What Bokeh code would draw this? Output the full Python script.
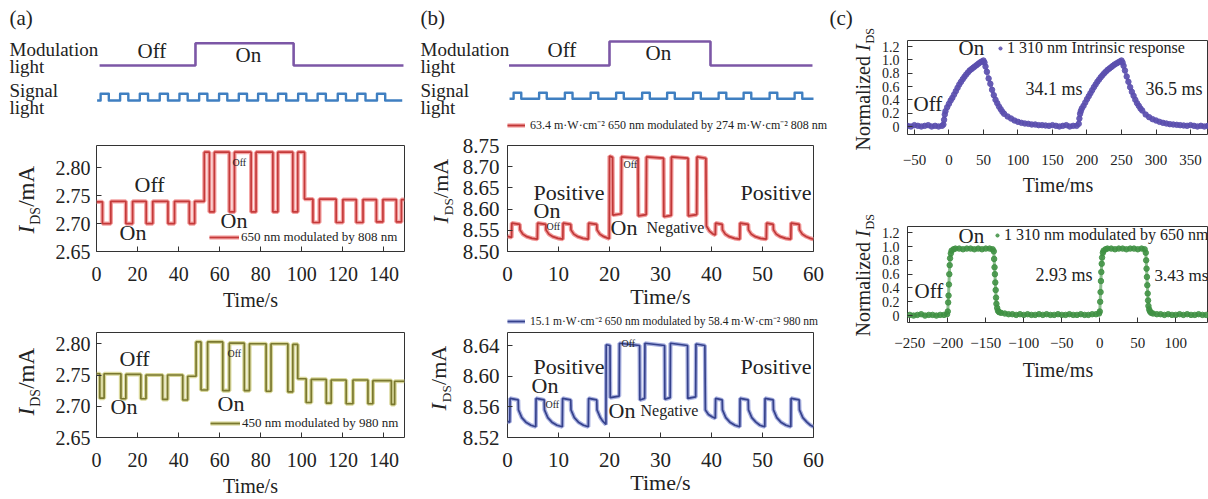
import math
from bokeh.plotting import figure
from bokeh.layouts import row, column
from bokeh.models import (Range1d, Label, Legend, LegendItem, FixedTicker,
                          NumeralTickFormatter, PrintfTickFormatter)
from bokeh.embed import file_html
from bokeh.resources import INLINE

# ---------------- data ----------------
# (a) schematic: modulation light (0 off / 1 on) and signal light pulses (time in s)
mod_a_edges = [1.5, 48.2, 96.0, 149.5]
mod_a_state = [0, 1, 0, 0]
sig_a_span = [0.3, 148.9]
sig_a_starts = [2.0, 11.5, 21.1, 30.8, 40.4, 50.0, 59.7, 69.3, 78.7, 88.4, 98.2, 107.7, 117.5, 127.0, 136.6]
sig_a_width = 4.0

# (b) schematic
mod_b_edges = [0.3, 20.0, 39.8, 59.8]
mod_b_state = [0, 1, 0, 0]
sig_b_span = [0.4, 60.0]
sig_b_starts = [1.2, 6.2, 11.25, 16.3, 21.3, 26.4, 31.3, 36.4, 41.4, 46.3, 51.4, 56.3]
sig_b_width = 1.5

# (a) 650 nm modulated by 808 nm  (step edges in s, current in mA)
a1_t = [0, 2.9, 7.0, 14.3, 17.6, 24.2, 27.4, 34.8, 38.0, 45.2, 47.8, 52.5, 55.0, 57.4, 64.7, 67.2, 75.3,
        77.7, 85.9, 88.3, 95.6, 98.0, 101.3, 105.4, 108.6, 116.7, 120.0, 126.5, 129.8, 136.3, 139.5, 146.0, 148.5, 150]
a1_i = [2.739, 2.700, 2.740, 2.700, 2.740, 2.700, 2.740, 2.700, 2.740, 2.700, 2.740, 2.828, 2.721, 2.828, 2.721,
        2.828, 2.721, 2.828, 2.721, 2.828, 2.721, 2.828, 2.744, 2.702, 2.744, 2.702, 2.743, 2.702, 2.743, 2.703,
        2.743, 2.703, 2.743, 2.743]

# (a) 450 nm modulated by 980 nm
a2_t = [0, 1.6, 3.7, 11.9, 14.3, 21.6, 24.1, 32.2, 34.6, 42.0, 44.4, 48.5, 50.9, 54.1, 61.5, 64.7, 72.0,
        74.5, 82.6, 85.0, 93.2, 95.6, 98.0, 102.1, 104.6, 111.9, 114.3, 121.6, 124.9, 132.2, 134.6, 143.6, 145.2, 150]
a2_i = [2.752, 2.713, 2.752, 2.712, 2.751, 2.712, 2.750, 2.711, 2.750, 2.710, 2.748, 2.803, 2.726, 2.803, 2.725,
        2.801, 2.725, 2.800, 2.724, 2.800, 2.723, 2.799, 2.744, 2.706, 2.743, 2.705, 2.742, 2.704, 2.742, 2.704,
        2.741, 2.703, 2.740, 2.740]

# (b) 63.4 mW/cm2 650 nm modulated by 274 mW/cm2 808 nm
b1_t = [0.0, 0.8, 0.85, 2.4, 2.45, 3.0, 3.8, 4.8, 5.85,
        5.9, 7.5, 7.55, 8.1, 8.9, 9.9, 10.85,
        10.9, 12.4, 12.45, 13.0, 13.8, 14.8, 15.85,
        15.9, 17.5, 17.55, 18.1, 18.9, 19.95,
        20.0, 20.6, 20.65, 22.3, 22.35, 25.6, 25.65, 27.2, 27.25, 30.6, 30.65, 32.1, 32.15, 35.4, 35.45, 37.1, 37.15, 38.9,
        39.0, 39.6, 40.2, 40.75,
        40.8, 42.1, 42.15, 42.7, 43.5, 44.5, 45.55,
        45.6, 47.2, 47.25, 47.8, 48.6, 49.6, 50.75,
        50.8, 52.1, 52.15, 52.7, 53.5, 54.5, 55.55,
        55.6, 57.2, 57.25, 57.8, 58.6, 59.4, 60.0]
b1_i = [8.536, 8.533, 8.567, 8.564, 8.551, 8.541, 8.535, 8.531, 8.529,
        8.567, 8.564, 8.551, 8.541, 8.535, 8.531, 8.529,
        8.567, 8.564, 8.551, 8.541, 8.535, 8.531, 8.529,
        8.567, 8.564, 8.551, 8.541, 8.535, 8.530,
        8.725, 8.722, 8.586, 8.589, 8.723, 8.720, 8.584, 8.587, 8.723, 8.720, 8.582, 8.585, 8.723, 8.720, 8.584, 8.587, 8.723, 8.720,
        8.560, 8.548, 8.542, 8.539,
        8.567, 8.564, 8.551, 8.541, 8.535, 8.531, 8.529,
        8.567, 8.564, 8.551, 8.541, 8.535, 8.531, 8.529,
        8.567, 8.564, 8.551, 8.541, 8.535, 8.531, 8.529,
        8.567, 8.564, 8.551, 8.541, 8.535, 8.531, 8.529]

# (b) 15.1 mW/cm2 650 nm modulated by 58.4 mW/cm2 980 nm
b2_t = [0.0, 0.45, 0.5, 2.1, 2.15, 2.8, 3.6, 4.6, 5.55,
        5.6, 7.2, 7.25, 7.9, 8.7, 9.7, 10.75,
        10.8, 12.4, 12.45, 13.1, 13.9, 14.9, 15.85,
        15.9, 17.5, 17.55, 18.2, 18.6, 19.3,
        19.35, 20.1, 20.15, 21.9, 21.95, 25.9, 25.95, 26.9, 26.95, 30.8, 30.85, 31.9, 31.95, 35.3, 35.35, 36.9, 36.95, 38.7,
        38.8, 39.4, 40.1, 40.75,
        40.8, 42.1, 42.15, 42.8, 43.6, 44.6, 45.55,
        45.6, 47.2, 47.25, 47.9, 48.7, 49.5, 50.45,
        50.5, 52.1, 52.15, 52.8, 53.6, 54.6, 55.55,
        55.6, 57.2, 57.25, 57.9, 58.7, 59.4, 60.0]
b2_i = [8.541, 8.540, 8.571, 8.569, 8.556, 8.546, 8.540, 8.536, 8.534,
        8.571, 8.569, 8.556, 8.546, 8.540, 8.536, 8.534,
        8.571, 8.569, 8.556, 8.546, 8.540, 8.536, 8.534,
        8.571, 8.569, 8.556, 8.546, 8.542, 8.537,
        8.641, 8.640, 8.572, 8.574, 8.643, 8.640, 8.569, 8.571, 8.643, 8.640, 8.570, 8.572, 8.643, 8.640, 8.571, 8.573, 8.642, 8.640,
        8.556, 8.550, 8.547, 8.545,
        8.571, 8.569, 8.556, 8.546, 8.540, 8.536, 8.534,
        8.571, 8.569, 8.556, 8.546, 8.540, 8.536, 8.534,
        8.571, 8.569, 8.556, 8.546, 8.540, 8.536, 8.534,
        8.571, 8.569, 8.556, 8.546, 8.540, 8.536, 8.534]

# (c) 1310 nm intrinsic response (time in ms, normalized I_DS)
c1_t = [-60, -55, -50, -45, -40, -35, -30, -25, -20, -15,
        -10, -8, -7, -6, -5, -2.5, 0, 2.5, 5, 7.5,
        10, 12.5, 15, 17.5, 20, 22.5, 25, 27.5, 30, 32.5,
        35, 37.5, 40, 42.5, 45, 47.5, 50, 51.5, 53, 55,
        57.5, 60, 62.5, 65, 67.5, 70, 72.5, 75, 77.5, 80,
        85, 90, 95, 100, 105, 110, 115, 120, 125, 130,
        135, 140, 145, 150, 155, 160, 165, 170, 175, 180,
        185, 188, 189, 190, 191, 192.5, 195, 197.5, 200, 202.5,
        205, 207.5, 210, 212.5, 215, 217.5, 220, 222.5, 225, 227.5,
        230, 232.5, 235, 237.5, 240, 242.5, 245, 247.5, 250, 251.5,
        253, 255, 257.5, 260, 262.5, 265, 267.5, 270, 272.5, 275,
        277.5, 280, 285, 290, 295, 300, 305, 310, 315, 320,
        325, 330, 335, 340, 345, 350, 355, 360, 365, 370,
        375]
c1_v = [0.01, 0.00, 0.02, 0.01, 0.00, 0.01, 0.02, 0.00, 0.01, 0.00,
        0.01, 0.03, 0.10, 0.18, 0.23, 0.29, 0.34, 0.39, 0.43, 0.48,
        0.53, 0.58, 0.63, 0.67, 0.71, 0.745, 0.78, 0.81, 0.84, 0.86,
        0.88, 0.90, 0.92, 0.94, 0.96, 0.975, 0.99, 0.96, 0.90, 0.82,
        0.72, 0.64, 0.55, 0.47, 0.40, 0.35, 0.30, 0.26, 0.22, 0.19,
        0.15, 0.12, 0.09, 0.07, 0.055, 0.045, 0.04, 0.03, 0.03, 0.02,
        0.02, 0.015, 0.01, 0.02, 0.01, 0.00, 0.01, 0.02, 0.00, 0.01,
        0.01, 0.04, 0.12, 0.19, 0.23, 0.27, 0.31, 0.36, 0.41, 0.455,
        0.50, 0.545, 0.59, 0.63, 0.67, 0.705, 0.74, 0.77, 0.80, 0.825,
        0.85, 0.87, 0.89, 0.91, 0.93, 0.945, 0.96, 0.975, 0.99, 0.96,
        0.91, 0.84, 0.75, 0.67, 0.59, 0.52, 0.46, 0.40, 0.35, 0.31,
        0.27, 0.24, 0.18, 0.14, 0.11, 0.09, 0.07, 0.055, 0.045, 0.035,
        0.03, 0.025, 0.02, 0.015, 0.01, 0.02, 0.01, 0.00, 0.01, 0.00,
        0.01]

# (c) 1310 nm modulated by 650 nm
c2_t = [-250, -245, -240, -235, -230, -225, -220, -215, -210, -205,
        -201, -200, -199.5, -199, -198.5, -198, -197.5, -197, -196, -195,
        -192.5, -190, -185, -180, -175, -170, -165, -160, -155, -150,
        -145, -141, -139.5, -139, -138.5, -138, -137.5, -137, -136.5, -136,
        -135, -134, -132.5, -130, -125, -120, -115, -110, -105, -100,
        -95, -90, -85, -80, -75, -70, -65, -60, -55, -50,
        -45, -40, -35, -30, -25, -20, -15, -10, -5, -1,
        0, 0.5, 1, 1.5, 2, 2.5, 3, 4, 5, 7.5,
        10, 15, 20, 25, 30, 35, 40, 45, 50, 55,
        59, 60.5, 61, 61.5, 62, 62.5, 63, 63.5, 64, 65,
        66, 67.5, 70, 75, 80, 85, 90, 95, 100, 105,
        110, 115, 120, 125, 130, 135, 140]
c2_v = [0.01, 0.00, 0.01, 0.02, 0.00, 0.01, 0.01, 0.00, 0.01, 0.01,
        0.02, 0.06, 0.19, 0.29, 0.45, 0.60, 0.73, 0.83, 0.90, 0.94,
        0.96, 0.97, 0.97, 0.96, 0.97, 0.97, 0.96, 0.97, 0.96, 0.97,
        0.97, 0.96, 0.93, 0.82, 0.70, 0.60, 0.48, 0.37, 0.26, 0.17,
        0.11, 0.07, 0.05, 0.04, 0.03, 0.02, 0.02, 0.01, 0.02, 0.01,
        0.02, 0.01, 0.01, 0.02, 0.01, 0.02, 0.01, 0.01, 0.02, 0.01,
        0.01, 0.02, 0.01, 0.01, 0.02, 0.01, 0.01, 0.02, 0.02, 0.03,
        0.06, 0.20, 0.34, 0.50, 0.63, 0.75, 0.84, 0.91, 0.94, 0.96,
        0.97, 0.97, 0.96, 0.97, 0.97, 0.96, 0.97, 0.97, 0.96, 0.97,
        0.96, 0.91, 0.80, 0.68, 0.56, 0.44, 0.32, 0.22, 0.14, 0.09,
        0.06, 0.04, 0.03, 0.02, 0.02, 0.01, 0.02, 0.01, 0.01, 0.02,
        0.01, 0.02, 0.01, 0.01, 0.02, 0.01, 0.01]

ticks_a_x = [0, 20, 40, 60, 80, 100, 120, 140]
ticks_a_y = [2.65, 2.70, 2.75, 2.80]
ticks_b_x = [0, 10, 20, 30, 40, 50, 60]
ticks_b1_y = [8.50, 8.55, 8.60, 8.65, 8.70, 8.75]
ticks_b2_y = [8.52, 8.56, 8.60, 8.64]
ticks_c1_x = [-50, 0, 50, 100, 150, 200, 250, 300, 350]
ticks_c2_x = [-250, -200, -150, -100, -50, 0, 50, 100]
ticks_c_y = [0, 0.2, 0.4, 0.6, 0.8, 1.0, 1.2]

legend_a1 = "650 nm modulated by 808 nm"
legend_a2 = "450 nm modulated by 980 nm"
legend_b1 = "63.4 m\u00b7W\u00b7cm\u207b\u00b2 650 nm modulated by 274 m\u00b7W\u00b7cm\u207b\u00b2 808 nm"
legend_b2 = "15.1 m\u00b7W\u00b7cm\u207b\u00b2 650 nm modulated by 58.4 m\u00b7W\u00b7cm\u207b\u00b2 980 nm"
legend_c1 = "1 310 nm Intrinsic response"
legend_c2 = "1 310 nm modulated by 650 nm"

# ---------------- style ----------------
SERIF = "Liberation Serif"
INK = "#222222"
AX = "#333333"
PURPLE = "#7c57a6"
BLUE = "#3f7fc1"
RED_GLOW, RED_CORE = "#f29a9a", "#c03838"
BLU_GLOW, BLU_CORE = "#a9b1e0", "#36428c"
SHIFT = 0.38   # baseline correction for Label text


def base_fig(w, h, xr, yr, ml, mr, mt, mb, axes=True):
    kw = {}
    if not axes:
        kw = dict(x_axis_type=None, y_axis_type=None)
    p = figure(width=w, height=h, x_range=Range1d(*xr), y_range=Range1d(*yr),
               output_backend="svg", toolbar_location=None,
               min_border_left=ml, min_border_right=mr, min_border_top=mt, min_border_bottom=mb, **kw)
    p.xgrid.visible = False
    p.ygrid.visible = False
    if not axes:
        p.outline_line_color = None
        return p
    p.outline_line_color = AX
    p.outline_line_width = 1
    for ax in (p.xaxis[0], p.yaxis[0]):
        ax.axis_line_color = None
        ax.major_tick_in = 5
        ax.major_tick_out = 0
        ax.minor_tick_line_color = None
        ax.major_tick_line_color = AX
        ax.major_label_text_font = SERIF
        ax.major_label_text_color = INK
    return p


def text_fig(w, h):
    return base_fig(w, h, (0, w), (0, h), 0, 0, 0, 0, axes=False)


def set_axes(p, xt, yt, xfs, yfs, xs, ys, xlabel, lfs, lstand, yfmt=None, xo=None, yo=None):
    xa, ya = p.xaxis[0], p.yaxis[0]
    xa.ticker = FixedTicker(ticks=xt)
    ya.ticker = FixedTicker(ticks=yt)
    xa.major_label_text_font_size = f"{xfs}px"
    ya.major_label_text_font_size = f"{yfs}px"
    xa.major_label_standoff = xs
    ya.major_label_standoff = ys
    if yfmt is not None:
        ya.formatter = yfmt
    if xo:
        xa.major_label_overrides = xo
    if yo:
        ya.major_label_overrides = yo
    xa.axis_label = xlabel
    xa.axis_label_text_font = SERIF
    xa.axis_label_text_font_size = f"{lfs}px"
    xa.axis_label_text_font_style = "normal"
    xa.axis_label_text_color = INK
    xa.axis_label_standoff = lstand


def put(p, geo, text, px, py, size, align="left", style="normal", rot=False, color=INK):
    if rot:
        px = px - SHIFT * size
    else:
        py = py - SHIFT * size
    p.add_layout(Label(x=px - geo[0], y=geo[1] - py, x_units="screen", y_units="screen",
                       text=text, text_font=SERIF, text_font_size=f"{size}px",
                       text_font_style=style, text_align=align, text_baseline="alphabetic",
                       text_color=color, angle=(math.pi / 2 if rot else 0.0)))


def ylabel_ids(p, geo, bx, by, fs):
    put(p, geo, "I", bx, by, fs, style="italic", rot=True)
    sub = 0.6 * fs
    y2 = by - 0.38 * fs
    put(p, geo, "DS", bx + 0.22 * fs, y2, sub, rot=True)
    y3 = y2 - 1.30 * sub
    put(p, geo, "/mA", bx, y3, fs, rot=True)


def ylabel_norm(p, geo, bx, by, fs):
    put(p, geo, "Normalized", bx, by, fs, rot=True)
    y2 = by - 4.97 * fs
    put(p, geo, "I", bx, y2, fs, style="italic", rot=True)
    sub = 0.6 * fs
    y3 = y2 - 0.38 * fs
    put(p, geo, "DS", bx + 0.22 * fs, y3, sub, rot=True)


def make_legend(label, renderers, loc, gw, gh, fs, standoff):
    return Legend(items=[LegendItem(label=label, renderers=renderers)], location=loc,
                  glyph_width=gw, glyph_height=gh, label_height=gh, label_width=10,
                  label_text_font=SERIF, label_text_font_size=f"{fs}px", label_text_color=INK,
                  label_standoff=standoff, padding=0, margin=0, spacing=0,
                  border_line_color=None, background_fill_alpha=0)


def pulse_train(span, starts, width):
    xs, ys = [span[0]], [0]
    for s in starts:
        xs += [s, s + width]
        ys += [1, 0]
    xs.append(span[1])
    ys.append(0)
    return xs, ys


def schematic(p, mod_edges, mod_state, mod_base, mod_amp, sig, sig_base, sig_amp):
    p.step(mod_edges, [mod_base + mod_amp * s for s in mod_state], mode="after",
           line_color=PURPLE, line_width=2.6)
    sx, sy = sig
    p.step(sx, [sig_base + sig_amp * s for s in sy], mode="after", line_color=BLUE, line_width=2.4,
           line_join="round")


def trace(p, xs, ys, glow, core, step=False):
    f = p.step if step else p.line
    kw = dict(mode="after") if step else {}
    g = f(xs, ys, line_color=glow, line_width=4.2, **kw)
    c = f(xs, ys, line_color=core, line_width=1.7, **kw)
    return [g, c]


def legend_key(p, xs, ys, glow, core):
    # legend key for a trace drawn in the panel below: one-point lines (nothing visible is drawn)
    return [p.line(xs[:1], ys[:1], line_color=glow, line_width=4.2),
            p.line(xs[:1], ys[:1], line_color=core, line_width=1.7)]


# ---------------- column (a) ----------------
A_PX = 308 / 150.0
sa = base_fig(410, 125, (-96 / A_PX, 314 / A_PX), (0, 125), 0, 0, 0, 0, axes=False)
geo_sa = (0, 125)
schematic(sa, mod_a_edges, mod_a_state, 60, 22.3, pulse_train(sig_a_span, sig_a_starts, sig_a_width), 25, 6.7)
put(sa, geo_sa, "(a)", 9, 25, 21)
put(sa, geo_sa, "Modulation", 9, 56, 19)
put(sa, geo_sa, "light", 9, 73, 19)
put(sa, geo_sa, "Signal", 9, 97, 19)
put(sa, geo_sa, "light", 9, 114, 19)
put(sa, geo_sa, "Off", 137, 58, 21)
put(sa, geo_sa, "On", 235, 62, 21)

lab_a = text_fig(44, 374)
geo_la = (0, 499)
ylabel_ids(lab_a, geo_la, 35, 233, 23)
ylabel_ids(lab_a, geo_la, 35, 415, 23)

a1 = base_fig(366, 190, (0, 150), (2.65, 2.84), 52, 6, 20, 64)
geo_a1 = (96, 251)
set_axes(a1, ticks_a_x, ticks_a_y, 20, 20, 15, 6, "Time/s", 20, 5, yfmt=NumeralTickFormatter(format="0.00"))
r = trace(a1, a1_t, a1_i, "#f4a3a3", "#c43a3a", step=True)
a1.add_layout(make_legend(legend_a1, r, (113, 6), 30, 12, 13, 2))
put(a1, geo_a1, "Off", 134, 192, 22)
put(a1, geo_a1, "On", 119, 240, 22)
put(a1, geo_a1, "On", 220, 228.7, 22)
put(a1, geo_a1, "Off", 232, 165.5, 10)

a2 = base_fig(366, 184, (0, 150), (2.65, 2.818), 52, 6, 17, 62)
geo_a2 = (96, 437)
set_axes(a2, ticks_a_x, ticks_a_y, 20, 20, 15, 6, "Time/s", 20, 5, yfmt=NumeralTickFormatter(format="0.00"))
r = trace(a2, a2_t, a2_i, "#d9d89c", "#7a782f", step=True)
a2.add_layout(make_legend(legend_a2, r, (114, 6), 30, 12, 13, 2))
put(a2, geo_a2, "Off", 119, 366, 22)
put(a2, geo_a2, "On", 110, 414.5, 22)
put(a2, geo_a2, "On", 217, 411, 22)
put(a2, geo_a2, "Off", 227, 356.5, 10)

# ---------------- column (b) ----------------
B_PX = 306 / 60.0
sb = base_fig(418, 133, (-97 / B_PX, 321 / B_PX), (0, 133), 0, 0, 0, 0, axes=False)
geo_sb = (410, 133)
schematic(sb, mod_b_edges, mod_b_state, 68, 24, pulse_train(sig_b_span, sig_b_starts, sig_b_width), 34.7, 6)
put(sb, geo_sb, "(b)", 420, 25, 21)
put(sb, geo_sb, "Modulation", 420, 56, 19)
put(sb, geo_sb, "light", 420, 73, 19)
put(sb, geo_sb, "Signal", 420, 97, 19)
put(sb, geo_sb, "light", 420, 114, 19)
put(sb, geo_sb, "Off", 547, 57, 21)
put(sb, geo_sb, "On", 645, 60, 21)
sb.add_layout(make_legend(legend_b1, legend_key(sb, b1_t, b1_i, RED_GLOW, RED_CORE), (97, 0), 18, 10, 12, 5))

lab_b1 = text_fig(46, 179)
ylabel_ids(lab_b1, (410, 312), 448, 223, 22)

b1 = base_fig(372, 179, (0, 60), (8.50, 8.75), 51, 15, 12, 61)
geo_b1 = (507, 251)
set_axes(b1, ticks_b_x, ticks_b1_y, 21, 21, 15, 8, "Time/s", 22, 0, yfmt=NumeralTickFormatter(format="0.00"))
trace(b1, b1_t, b1_i, RED_GLOW, RED_CORE)
put(b1, geo_b1, "Positive", 533, 200, 22)
put(b1, geo_b1, "On", 533, 218, 22)
put(b1, geo_b1, "Off", 546, 230, 10)
put(b1, geo_b1, "On", 610, 235, 22)
put(b1, geo_b1, "Negative", 646, 233, 16)
put(b1, geo_b1, "Off", 623, 168, 10)
put(b1, geo_b1, "Positive", 740, 200, 22)

strip_b = text_fig(418, 20)
strip_b.add_layout(make_legend(legend_b2, legend_key(strip_b, b2_t, b2_i, BLU_GLOW, BLU_CORE), (97, 4), 18, 12, 11.5, 5))

lab_b2 = text_fig(46, 167)
ylabel_ids(lab_b2, (410, 499), 446, 410, 22)

b2 = base_fig(372, 167, (0, 60), (8.52, 8.657), 51, 15, 0, 62)
geo_b2 = (507, 437)
set_axes(b2, ticks_b_x, ticks_b2_y, 21, 21, 15, 8, "Time/s", 22, 0, yfmt=NumeralTickFormatter(format="0.00"))
trace(b2, b2_t, b2_i, BLU_GLOW, BLU_CORE)
put(b2, geo_b2, "Positive", 533, 374.5, 22)
put(b2, geo_b2, "On", 531, 393, 22)
put(b2, geo_b2, "Off", 545, 408, 10)
put(b2, geo_b2, "On", 608, 418, 22)
put(b2, geo_b2, "Negative", 640, 416, 16)
put(b2, geo_b2, "Off", 621, 347, 10)
put(b2, geo_b2, "Positive", 740, 374.5, 22)

# ---------------- column (c) ----------------
def minus(ticks):
    return {t: ("\u2212" + str(abs(t)) if t < 0 else str(t)) for t in ticks}


lab_c = text_fig(50, 499)
geo_lc = (828, 499)
put(lab_c, geo_lc, "(c)", 829, 25, 21)
ylabel_norm(lab_c, geo_lc, 870, 150, 20)
ylabel_norm(lab_c, geo_lc, 870, 336, 20)

c1 = base_fig(330, 200, (-60, 376), (-0.12, 1.29), 26, 0, 40, 66)
geo_c1 = (904, 134)
set_axes(c1, ticks_c1_x, ticks_c_y, 15, 14, 20, 8, "Time/ms", 20, 6,
         yfmt=PrintfTickFormatter(format="%.1f"), xo=minus(ticks_c1_x), yo={0: "0"})
c1.line(c1_t, c1_v, line_color="#5a4fae", line_width=3.5, line_alpha=0.6)
s1 = c1.scatter(c1_t, c1_v, size=5.5, color="#5a4fae", alpha=0.85)
c1.add_layout(make_legend(legend_c1, [s1], (89, 77), 8, 16, 16, 3))
put(c1, geo_c1, "On", 955, 55, 21)
put(c1, geo_c1, "Off", 910, 111.7, 21)
put(c1, geo_c1, "34.1 ms", 1022, 95, 18)
put(c1, geo_c1, "36.5 ms", 1142, 95, 18)

c2 = base_fig(330, 299, (-253, 143), (-0.1, 1.29), 26, 0, 26, 177)
geo_c2 = (904, 322)
set_axes(c2, ticks_c2_x, ticks_c_y, 15, 14, 15, 8, "Time/ms", 20, 8,
         yfmt=PrintfTickFormatter(format="%.1f"), xo=minus(ticks_c2_x), yo={0: "0"})
c2.line(c2_t, c2_v, line_color="#3f9143", line_width=3.0, line_alpha=0.6)
s2 = c2.scatter(c2_t, c2_v, size=5.5, color="#3f9143", alpha=0.85)
c2.add_layout(make_legend(legend_c2, [s2], (86, 78), 8, 16, 16, 3))
put(c2, geo_c2, "On", 955, 243, 21)
put(c2, geo_c2, "Off", 911, 298, 21)
put(c2, geo_c2, "2.93 ms", 1032, 281.5, 18)
put(c2, geo_c2, "3.43 ms", 1151, 281.5, 17)

col_a = column(sa, row(lab_a, column(a1, a2)))
col_b = column(sb, row(lab_b1, column(b1)), strip_b, row(lab_b2, column(b2)))
col_c = row(lab_c, column(c1, c2))
layout = row(col_a, col_b, col_c)
open("out.html", "w").write(file_html(layout, INLINE))
